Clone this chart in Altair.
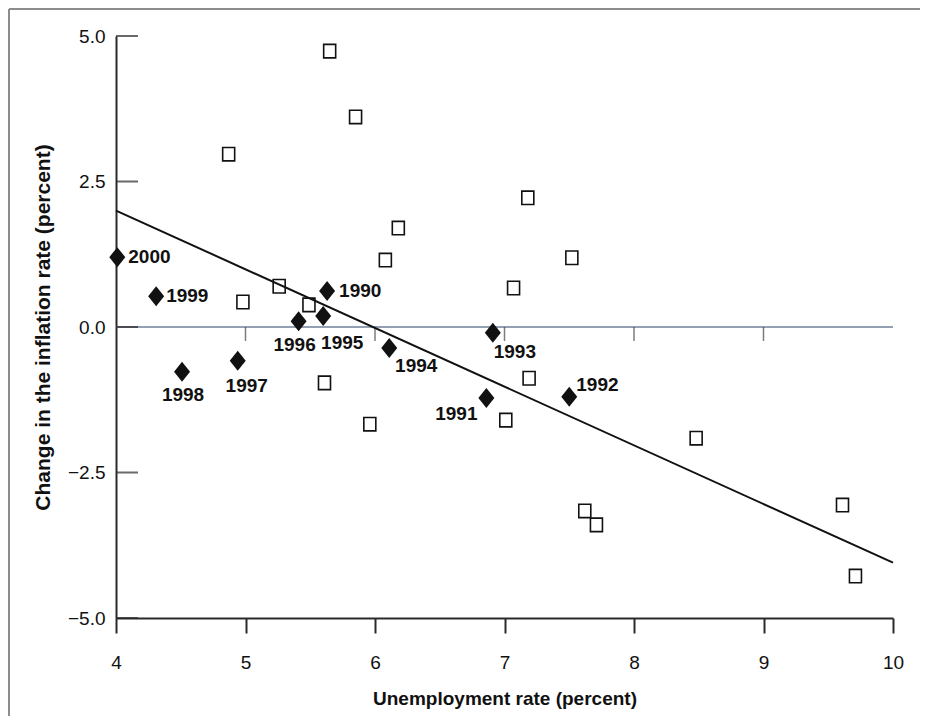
import altair as alt
import pandas as pd

# ---------------- data ----------------
years = [1990, 1991, 1992, 1993, 1994, 1995, 1996, 1997, 1998, 1999, 2000]
year_unemp = [5.63, 6.86, 7.50, 6.91, 6.11, 5.60, 5.41, 4.94, 4.51, 4.31, 4.01]
year_dinfl = [0.62, -1.22, -1.20, -0.10, -0.36, 0.19, 0.10, -0.58, -0.77, 0.53, 1.20]

other_unemp = [5.65, 5.85, 4.87, 7.18, 6.18, 6.08, 7.52, 7.07, 5.26, 4.98,
               5.49, 5.61, 5.96, 7.19, 7.01, 8.48, 7.62, 7.71, 9.61, 9.71]
other_dinfl = [4.74, 3.61, 2.97, 2.22, 1.70, 1.15, 1.19, 0.67, 0.70, 0.43,
               0.38, -0.96, -1.67, -0.88, -1.60, -1.91, -3.16, -3.40, -3.06, -4.28]

fit_unemp = [4.0, 10.0]
fit_dinfl = [2.0, -4.05]

x_ticks = [4, 5, 6, 7, 8, 9, 10]
y_ticks = [-5.0, -2.5, 0.0, 2.5, 5.0]
zero_line_ticks = [5, 6, 7, 8, 9]

x_title = "Unemployment rate (percent)"
y_title = "Change in the inflation rate (percent)"

# ---------------- styling ----------------
FONT = "Liberation Sans"
W, H = 777, 582
PAD_L, PAD_T, PAD_R, PAD_B = 108, 28, 27, 98
INK = "#111111"

# label placement relative to each diamond: (dx, dy, align)
label_pos = {
    2000: (11, 0, "left"),
    1999: (10, 0, "left"),
    1998: (1, 23, "center"),
    1997: (9, 25, "center"),
    1996: (-4, 24, "center"),
    1995: (19, 27, "center"),
    1990: (12, 0, "left"),
    1994: (27, 18, "center"),
    1993: (22, 19, "center"),
    1991: (-30, 16, "center"),
    1992: (7, -12, "left"),
}

diamonds = pd.DataFrame({"year": years, "u": year_unemp, "d": year_dinfl})
squares = pd.DataFrame({"u": other_unemp, "d": other_dinfl})
fit = pd.DataFrame({"u": fit_unemp, "d": fit_dinfl})
yt = pd.DataFrame({"u": [4] * len(y_ticks), "d": y_ticks})
zt = pd.DataFrame({"u": zero_line_ticks, "d": [0] * len(zero_line_ticks)})
zl = pd.DataFrame({"u": [4], "u2": [10], "d": [0]})

xs = alt.Scale(domain=[4, 10], nice=False, zero=False)
ys = alt.Scale(domain=[-5, 5], nice=False, zero=False)

x_axis = alt.Axis(
    values=x_ticks, format="d", title=x_title, grid=False,
    labelFont=FONT, labelFontSize=19, labelColor=INK, labelPadding=20,
    labelFlush=False, labelOverlap=False,
    tickSize=15, tickWidth=2, tickColor="#2a2a2a",
    domainColor="#2a2a2a", domainWidth=2,
    titleFont=FONT, titleFontSize=19, titleFontWeight="bold", titleColor=INK,
    titleY=80, titleBaseline="middle",
)
y_axis = alt.Axis(
    values=y_ticks, format=".1f", title=y_title, grid=False,
    labelFont=FONT, labelFontSize=19, labelColor=INK, labelPadding=11,
    labelFlush=False, labelOverlap=False, ticks=False,
    domainColor="#2a2a2a", domainWidth=2,
    titleFont=FONT, titleFontSize=21, titleFontWeight="bold", titleColor=INK,
    titleX=-73, titleY=H / 2, titleAlign="center", titleBaseline="middle", titleAngle=-90,
)

X = alt.X("u:Q", scale=xs, axis=x_axis, title=x_title)
Y = alt.Y("d:Q", scale=ys, axis=y_axis, title=y_title)

sq = alt.Chart(squares).mark_point(
    shape="M-1,-1.12L1,-1.12L1,1.12L-1,1.12Z", size=144, filled=False,
    stroke=INK, strokeWidth=1.6, opacity=1,
).encode(x=X, y=Y)

zero = alt.Chart(zl).mark_rule(color="#6f7f98", strokeWidth=1.5).encode(
    x=X, x2="u2:Q", y=Y,
)

zticks = alt.Chart(zt).mark_tick(orient="vertical", size=14, thickness=1.5,
                                 color="#444444", yOffset=7).encode(x=X, y=Y)

yticks = alt.Chart(yt).mark_tick(orient="horizontal", size=22, thickness=2,
                                 color="#2a2a2a", xOffset=11).encode(x=X, y=Y)

line = alt.Chart(fit).mark_line(color=INK, strokeWidth=2).encode(x=X, y=Y)

dm = alt.Chart(diamonds).mark_point(
    shape="M-1,0L0,-1.25L1,0L0,1.25Z", size=256, filled=True,
    color=INK, opacity=1, strokeWidth=0,
).encode(x=X, y=Y)

labels = []
for yr in years:
    dx, dy, al = label_pos[yr]
    labels.append(
        alt.Chart(diamonds).transform_filter(alt.datum.year == yr).mark_text(
            font=FONT, fontSize=19, fontWeight="bold", color=INK,
            dx=dx, dy=dy, align=al, baseline="middle",
        ).encode(x=X, y=Y, text=alt.Text("year:N"))
    )

frame_top = alt.Chart(pd.DataFrame({"a": [0]})).mark_rule(color="#8c8c8c", strokeWidth=2).encode(
    x=alt.value(-107), x2=alt.value(W + PAD_R), y=alt.value(-27)
)
frame_left = alt.Chart(pd.DataFrame({"a": [0]})).mark_rule(color="#8c8c8c", strokeWidth=2).encode(
    x=alt.value(-107), y=alt.value(-27), y2=alt.value(H + PAD_B)
)

chart = alt.layer(
    frame_top, frame_left, sq, zero, zticks, yticks, line, dm, *labels
).properties(
    width=W, height=H,
    autosize=alt.AutoSizeParams(type="none"),
    padding={"left": PAD_L, "top": PAD_T, "right": PAD_R, "bottom": PAD_B},
    background="white",
).configure_view(stroke=None)

chart.save("out.html", embed_options={"renderer": "svg", "actions": False})
